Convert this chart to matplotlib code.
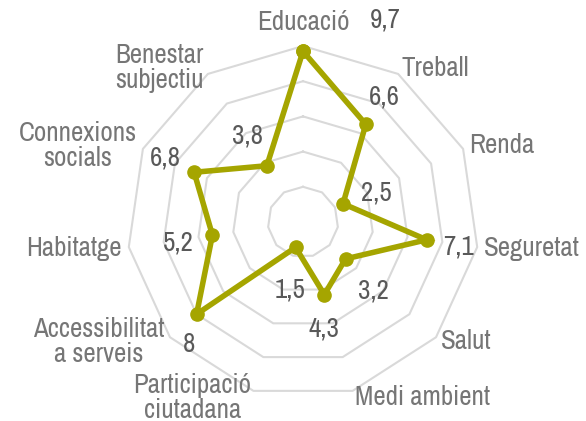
import numpy as np
import matplotlib.pyplot as plt
from matplotlib import font_manager

# Dimensions del benestar i puntuacions (escala 0-10)
categories = ["Educació", "Treball", "Renda", "Seguretat", "Salut", "Medi ambient",
              "Participació\nciutadana", "Accessibilitat\na serveis", "Habitatge",
              "Connexions\nsocials", "Benestar\nsubjectiu"]
valors = [9.7, 6.6, 2.5, 7.1, 3.2, 4.3, 1.5, 8.0, 5.2, 6.8, 3.8]
etiquetes_valor = ["9,7", "6,6", "2,5", "7,1", "3,2", "4,3", "1,5", "8", "5,2", "6,8", "3,8"]
anells = [2, 4, 6, 8, 10]

# desplaçament de cada etiqueta de valor respecte del seu punt (píxels)
despl_valor = [(82, 31), (19, 27), (33, 11), (32, -7), (28, -32), (0, -34),
               (-5, -43), (-8, -30), (-34, -8), (-29, 14), (-19, 30)]

fams = {f.name for f in font_manager.fontManager.ttflist}
font = "Archivo Narrow" if "Archivo Narrow" in fams else "Liberation Sans"
plt.rcParams["font.family"] = [font, "DejaVu Sans"]

verd = "#a5a500"
gris_cat = "#767676"
gris_val = "#595959"
mida = 19.4

n = len(categories)
angles = np.linspace(0, 2 * np.pi, n, endpoint=False)

fig = plt.figure(figsize=(5.86, 4.21), dpi=100)
ax = fig.add_axes([127 / 586, 23 / 421, 352 / 586, 352 / 421], projection="polar")
ax.set_theta_offset(np.pi / 2)
ax.set_theta_direction(-1)
ax.set_ylim(0, 10)
ax.axis("off")

# graella poligonal
tanc = np.append(angles, angles[0])
for r in anells:
    ax.plot(tanc, [r] * (n + 1), color="#d9d9d9", lw=1.5, zorder=1, clip_on=False)

vals = np.append(valors, valors[0])
ax.plot(tanc, vals, color=verd, lw=4, zorder=3, clip_on=False,
        marker="o", markersize=9.5, solid_joinstyle="miter")

# noms de les categories
for ang, nom in zip(angles, categories):
    s = np.sin(ang)
    if abs(s) < 1e-6:
        ax.text(ang, 11.35, nom, ha="center", va="center", fontsize=mida, color=gris_cat)
    else:
        ha = "left" if s > 0 else "right"
        ax.text(ang, 10.4, nom, ha=ha, va="center", fontsize=mida, color=gris_cat,
                linespacing=1.0, multialignment="center")

# valors
for ang, v, txt, (dx, dy) in zip(angles, valors, etiquetes_valor, despl_valor):
    ax.annotate(txt, (ang, v), xytext=(dx, dy), textcoords="offset pixels",
                ha="center", va="center", fontsize=mida, color=gris_val)

fig.savefig("out.png", dpi=100)
